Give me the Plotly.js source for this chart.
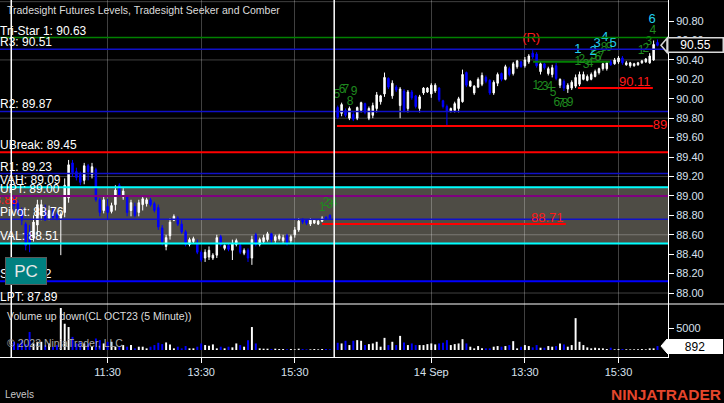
<!DOCTYPE html>
<html><head><meta charset="utf-8">
<script src="https://cdn.plot.ly/plotly-3.0.1.min.js"></script>
<style>html,body{margin:0;padding:0;background:#000;}#chart{width:724px;height:403px;}</style>
</head><body><div id="chart"></div>
<script>
// ---------- DATA (5-minute bars, CL OCT23) ----------
const day1Open  = [88.96,88.92,88.85,88.71,88.62,88.57,88.70,88.80,88.85,88.77,88.85,88.81,88.77,88.83,88.98,89.34,89.25,89.22,89.16,89.31,89.22,89.27,88.96,88.85,88.89,88.84,88.91,89.11,88.99,88.99,88.85,88.89,88.83,88.91,88.92,88.96,88.92,88.88,88.67,88.48,88.59,88.75,88.77,88.71,88.63,88.50,88.53,88.51,88.42,88.36,88.37,88.36,88.39,88.58,88.46,88.49,88.44,88.50,88.49,88.41,88.44,88.36,88.60,88.50,88.53,88.55,88.61,88.54,88.56,88.54,88.59,88.54,88.60,88.65,88.76,88.75,88.71,88.72,88.71,88.74,88.78,88.80];
const day1High  = [88.99,88.96,88.88,88.73,88.70,88.80,88.96,88.96,88.91,88.90,88.88,88.83,88.83,89.18,89.37,89.37,89.29,89.25,89.34,89.33,89.34,89.29,88.98,88.99,88.97,88.93,89.11,89.13,89.08,89.01,88.96,88.93,88.96,88.99,88.98,88.98,88.94,88.91,88.70,88.60,88.77,88.81,88.79,88.75,88.65,88.57,88.58,88.55,88.44,88.45,88.48,88.41,88.60,88.60,88.50,88.51,88.55,88.56,88.51,88.46,88.46,88.59,88.62,88.57,88.60,88.63,88.62,88.60,88.61,88.60,88.61,88.60,88.68,88.77,88.77,88.76,88.77,88.76,88.76,88.79,88.79,88.81];
const day1Low   = [88.85,88.80,88.70,88.44,88.42,88.53,88.60,88.75,88.75,88.75,88.76,88.75,88.39,88.78,88.93,89.20,89.16,89.11,89.12,89.16,89.18,88.94,88.79,88.82,88.75,88.82,88.85,88.99,88.96,88.79,88.79,88.78,88.79,88.85,88.89,88.89,88.83,88.65,88.49,88.44,88.55,88.74,88.69,88.61,88.48,88.48,88.51,88.40,88.32,88.32,88.34,88.34,88.36,88.48,88.44,88.43,88.34,88.48,88.40,88.39,88.32,88.29,88.48,88.48,88.51,88.53,88.51,88.51,88.54,88.51,88.49,88.51,88.57,88.63,88.71,88.70,88.69,88.71,88.70,88.73,88.75,88.76];
const day1Close = [88.90,88.83,88.75,88.49,88.51,88.73,88.91,88.91,88.75,88.85,88.78,88.77,88.81,89.11,89.32,89.24,89.19,89.14,89.31,89.25,89.30,88.96,88.83,88.96,88.83,88.90,89.06,89.01,89.05,88.83,88.93,88.80,88.93,88.97,88.96,88.91,88.85,88.68,88.53,88.57,88.73,88.79,88.71,88.63,88.50,88.55,88.56,88.42,88.34,88.42,88.44,88.39,88.57,88.50,88.49,88.45,88.51,88.54,88.42,88.44,88.36,88.55,88.50,88.55,88.57,88.61,88.55,88.58,88.59,88.57,88.51,88.58,88.65,88.74,88.73,88.72,88.75,88.75,88.74,88.77,88.76,88.77];
const day1Volume = [1865,1490,2240,1300,4100,1490,1865,1865,1120,1490,750,1120,9550,5970,5220,2980,1490,1865,1490,1490,750,2610,2240,1490,1865,1865,750,900,1120,750,1120,370,750,750,370,750,1120,1640,1340,1715,1270,370,750,370,895,370,370,750,1490,1120,970,1270,370,750,370,750,600,1490,1120,750,2240,5220,1490,370,300,300,220,300,220,220,150,220,150,300,220,150,150,220,150,220,220,150];

const day2Open  = [89.91,89.85,89.88,89.80,89.84,89.80,89.88,89.95,89.80,89.83,89.90,89.97,90.05,90.21,90.03,90.12,89.93,90.08,89.90,90.07,90.03,89.90,90.06,90.07,90.05,90.08,90.11,89.98,89.92,89.87,89.88,89.90,89.97,90.27,90.13,90.06,90.12,90.15,90.22,90.19,90.06,90.16,90.26,90.20,90.31,90.26,90.33,90.38,90.34,90.38,90.47,90.46,90.28,90.36,90.26,90.25,90.34,90.14,90.18,90.10,90.11,90.13,90.15,90.20,90.19,90.20,90.23,90.27,90.31,90.31,90.38,90.36,90.38,90.42,90.35,90.34,90.34,90.35,90.37,90.38,90.37,90.40,90.58];
const day2High  = [89.93,89.96,89.90,89.92,89.86,89.92,89.97,89.96,89.92,89.96,90.07,90.04,90.27,90.22,90.19,90.14,90.12,90.10,90.09,90.09,90.04,90.04,90.12,90.12,90.16,90.16,90.12,89.99,89.94,89.91,89.97,90.02,90.30,90.28,90.19,90.14,90.22,90.27,90.24,90.20,90.19,90.27,90.27,90.35,90.33,90.38,90.40,90.39,90.43,90.46,90.50,90.48,90.38,90.37,90.33,90.35,90.37,90.21,90.20,90.16,90.19,90.25,90.28,90.28,90.25,90.27,90.30,90.32,90.37,90.38,90.40,90.42,90.44,90.44,90.39,90.38,90.37,90.38,90.40,90.42,90.47,90.60,90.61];
const day2Low   = [89.79,89.82,89.81,89.78,89.77,89.78,89.86,89.84,89.78,89.80,89.86,89.94,90.02,90.10,90.00,90.07,89.80,89.86,89.86,89.99,89.90,89.86,90.04,90.06,90.01,90.06,89.97,89.90,89.72,89.86,89.86,89.86,89.96,90.12,90.12,90.04,90.11,90.13,90.16,90.04,90.04,90.13,90.18,90.19,90.23,90.24,90.31,90.32,90.32,90.36,90.41,90.32,90.25,90.30,90.24,90.22,90.19,90.11,90.08,90.06,90.09,90.11,90.13,90.19,90.18,90.19,90.22,90.25,90.29,90.29,90.34,90.35,90.36,90.35,90.34,90.32,90.33,90.34,90.36,90.37,90.36,90.39,90.54];
const day2Close = [89.81,89.94,89.83,89.90,89.79,89.91,89.96,89.86,89.90,89.93,90.04,90.03,90.22,90.12,90.16,90.09,90.10,89.88,90.07,90.01,89.92,90.02,90.11,90.11,90.14,90.14,89.99,89.92,89.87,89.90,89.95,90.00,90.25,90.14,90.18,90.13,90.20,90.24,90.18,90.06,90.17,90.25,90.20,90.33,90.25,90.36,90.39,90.33,90.40,90.44,90.43,90.34,90.36,90.32,90.31,90.32,90.21,90.20,90.11,90.14,90.17,90.22,90.25,90.25,90.23,90.25,90.28,90.31,90.36,90.37,90.35,90.40,90.42,90.37,90.37,90.37,90.36,90.37,90.39,90.41,90.44,90.56,90.55];
const day2Volume = [1640,1490,2090,1120,2090,2240,2090,1120,1340,1490,1865,750,2760,1120,1865,1120,3210,1715,1120,1490,1120,1120,1120,1340,1490,1270,1490,1640,2240,1120,1340,1490,2460,1490,750,370,895,370,370,370,750,895,750,895,1120,2010,370,750,1120,895,600,1120,520,520,895,750,895,1490,1270,750,1120,7240,1865,1120,600,370,520,370,370,220,520,150,220,220,150,150,150,150,220,150,370,370,892];

// time axis labels (bar index within the chart)
const timeTickIdx  = [24, 48, 72, 107, 131, 155];
const timeTickText = ['11:30', '13:30', '15:30', '14 Sep', '13:30', '15:30'];
const sessionStartIdx = [0, 83];

// Tradesight futures levels
const levelNames  = ['Tri-Star 1', 'R3', 'R2', 'UBreak', 'R1', 'VAH', 'UPT', 'Pivot', 'VAL', 'S1', 'LPT'];
const levelValues = [90.63, 90.51, 89.87, 89.45, 89.23, 89.09, 89.00, 88.76, 88.51, 88.12, 87.89];
const levelColors = ['#008000', '#1010c8', '#1010c8', '#ff0000', '#1010c8', '#00ffff', '#800080', '#1010c8', '#00ffff', '#0000ff', null];
const levelWidths = [1.5, 1.5, 1.5, 2, 1.5, 2, 2, 1.5, 2, 2, 0];

// Seeker / Comber segments
const segStartIdx = [79, 82.8, 144.6, 133.1];
const segEndIdx   = [141.5, 163.8, 163.8, 152.8];
const segPrice    = [88.71, 89.72, 90.11, 90.38];
const segColor    = ['#ff0000', '#ff0000', '#ff0000', '#008000'];

// count labels
const greenText  = ['1','2','3','4','5','6','7','8','9', '1','2','3','4','5','6','7','8','9', '1','2','3','4','5','6','7','8','9', '1','2','3','4'];
const greenIdx   = [79,80,81,82,82.8,84.1,85.1,86.2,87.2, 133.8,134.9,136.2,137.4,138.2,139.2,140.3,141.3,142.6, 144.6,145.6,146.7,147.7,148.7,149.7,150.5,151.3,152.6, 160.8,162.0,162.8,163.8];
const greenPrice = [88.88,88.93,88.91,88.93,90.04,90.09,90.09,89.97,90.07, 90.13,90.12,90.12,90.12,90.06,89.96,89.95,89.95,89.96, 90.38,90.40,90.35,90.36,90.44,90.42,90.43,90.52,90.52, 90.49,90.51,90.58,90.70];
const cyanText   = ['1','2','3','4','5','6'];
const cyanIdx    = [144.6,148.5,149.5,151.5,153.6,163.6];
const cyanPrice  = [90.50,90.48,90.57,90.63,90.57,90.81];
const redMarkText = ['(R)'];
const redMarkIdx  = [132.6];
const redMarkPrice = [90.62];

// ---------- BUILD ----------
const X1 = day1Open.map((_, i) => sessionStartIdx[0] + i);
const X2 = day2Open.map((_, i) => sessionStartIdx[1] + i);
const X = X1.concat(X2);
const O = day1Open.concat(day2Open);
const H = day1High.concat(day2High);
const L = day1Low.concat(day2Low);
const C = day1Close.concat(day2Close);
const V = day1Volume.concat(day2Volume);
const isUp = O.map((o, i) => C[i] >= o);

const FONT = 'Liberation Sans, Arial, sans-serif';
const plotW = 668, plotH = 357;
const priceBottom = 53 / plotH;
const pxPerPrice = 97.1;
const volPerPx = 5000 / 22;

const traces = [];
traces.push({
  type: 'candlestick', x: X, open: O, high: H, low: L, close: C,
  xaxis: 'x', yaxis: 'y', whiskerwidth: 0, hoverinfo: 'skip', showlegend: false,
  increasing: {line: {color: '#ffffff', width: 1}, fillcolor: '#ffffff'},
  decreasing: {line: {color: '#0000ff', width: 1}, fillcolor: '#0000ff'}
});
traces.push({
  type: 'bar', x: X, y: V, xaxis: 'x', yaxis: 'y2', width: 0.5,
  marker: {color: isUp.map(u => u ? '#ffffff' : '#0000ff'), line: {width: 0}},
  hoverinfo: 'skip', showlegend: false
});
segStartIdx.forEach((s, k) => {
  traces.push({type: 'scatter', mode: 'lines', x: [s, segEndIdx[k]], y: [segPrice[k], segPrice[k]],
    xaxis: 'x', yaxis: 'y', line: {color: segColor[k], width: 2}, hoverinfo: 'skip', showlegend: false});
});
traces.push({type: 'scatter', mode: 'text', x: greenIdx, y: greenPrice, text: greenText,
  textfont: {family: FONT, size: 12, color: '#1f8a1f'}, cliponaxis: false, hoverinfo: 'skip', showlegend: false});
traces.push({type: 'scatter', mode: 'text', x: cyanIdx, y: cyanPrice, text: cyanText,
  textfont: {family: FONT, size: 13, color: '#22d0f0'}, cliponaxis: false, hoverinfo: 'skip', showlegend: false});
traces.push({type: 'scatter', mode: 'text', x: redMarkIdx, y: redMarkPrice, text: redMarkText,
  textfont: {family: FONT, size: 13, color: '#ff1a1a'}, cliponaxis: false, hoverinfo: 'skip', showlegend: false});
// clipped edge labels
traces.push({type: 'scatter', mode: 'text', x: [segEndIdx[1]], y: [segPrice[1]], text: [segPrice[1].toFixed(2)],
  textposition: 'middle right', textfont: {family: FONT, size: 13, color: '#ff1a1a'}, cliponaxis: true, hoverinfo: 'skip', showlegend: false});
traces.push({type: 'scatter', mode: 'text', x: [0.9], y: [88.95], text: ['88.88'],
  textposition: 'middle left', textfont: {family: FONT, size: 12, color: '#ff1a1a'}, cliponaxis: true, hoverinfo: 'skip', showlegend: false});

const shapes = [];
const vahIdx = levelNames.indexOf('VAH'), valIdx = levelNames.indexOf('VAL');
shapes.push({type: 'rect', layer: 'below', xref: 'paper', yref: 'y', x0: 0, x1: 1,
  y0: levelValues[valIdx], y1: levelValues[vahIdx], fillcolor: '#4e4c45', line: {width: 0}});
for (let g = 88.0; g <= 91.01; g += 0.6) {
  shapes.push({type: 'line', layer: 'below', xref: 'paper', yref: 'y', x0: 0, x1: 1, y0: g, y1: g,
    line: {color: 'rgba(255,255,255,0.25)', width: 1}});
}
levelValues.forEach((v, k) => {
  if (!levelColors[k]) return;
  shapes.push({type: 'line', xref: 'paper', yref: 'y', x0: 0, x1: 1, y0: v, y1: v,
    line: {color: levelColors[k], width: levelWidths[k]}});
});
sessionStartIdx.forEach((s, k) => {
  const xv = s - (k === 0 ? 0.7 : 0.9);
  shapes.push({type: 'line', xref: 'x', yref: 'paper', x0: xv, x1: xv, y0: 0, y1: 1,
    line: {color: '#ffffff', width: 1.5}});
});
shapes.push({type: 'line', xref: 'paper', yref: 'paper', x0: 0, x1: 724 / plotW, y0: priceBottom, y1: priceBottom,
  line: {color: '#ffffff', width: 1}});
// last price / last volume marker chevrons (the boxes are annotations)
const lastC = C[C.length - 1];
const hP = 7 / pxPerPrice;
const tipX = 661 / plotW, boxL = 667 / plotW;
shapes.push({type: 'path', xref: 'paper', yref: 'y',
  path: `M ${boxL},${lastC + hP} L ${tipX},${lastC} L ${boxL},${lastC - hP} Z`,
  fillcolor: '#000000', line: {color: '#d8d8d8', width: 1.5}});
const lastV = V[V.length - 1];
const hV = 7 * volPerPx;
shapes.push({type: 'path', xref: 'paper', yref: 'y2',
  path: `M ${boxL},${lastV + hV} L ${tipX},${lastV} L ${boxL},${lastV - hV} Z`,
  fillcolor: '#ffffff', line: {color: '#ffffff', width: 1}});

const ann = [];
const py = p => (plotH - p) / plotH; // pixel y -> paper
ann.push({xref: 'paper', yref: 'paper', x: 5 / plotW, y: py(10), xanchor: 'left', yanchor: 'middle', showarrow: false,
  text: 'Tradesight Futures Levels, Tradesight Seeker and Comber', font: {family: FONT, size: 10.5, color: '#dcdcdc'}});
levelNames.forEach((n, k) => {
  ann.push({xref: 'paper', yref: 'y', x: 0, y: levelValues[k], xanchor: 'left', yanchor: 'bottom', xshift: -2, yshift: -2,
    showarrow: false, text: n + ': ' + levelValues[k].toFixed(2), font: {family: FONT, size: 12, color: '#ffffff'}});
});
[0, 2].forEach(k => {
  ann.push({xref: 'x', yref: 'y', x: segEndIdx[k], y: segPrice[k], xanchor: 'right', yanchor: 'bottom', yshift: -3, showarrow: false,
    text: segPrice[k].toFixed(2), font: {family: FONT, size: 13, color: '#ff1a1a'}});
});
ann.push({xref: 'paper', yref: 'paper', x: 5 / plotW, y: py(271), xanchor: 'left', yanchor: 'middle', showarrow: false,
  text: 'PC', width: 38, height: 24, bgcolor: '#008080', bordercolor: '#5a5a5a', borderwidth: 1,
  font: {family: FONT, size: 17, color: '#e8e8e8'}});
ann.push({xref: 'paper', yref: 'y', x: 667 / plotW, y: lastC, xanchor: 'left', yanchor: 'middle', showarrow: false,
  text: lastC.toFixed(2), width: 52, height: 11, borderpad: 1, bgcolor: '#000000', bordercolor: '#d8d8d8', borderwidth: 1.5,
  font: {family: FONT, size: 12, color: '#ffffff'}});
ann.push({xref: 'paper', yref: 'y2', x: 667 / plotW, y: lastV, xanchor: 'left', yanchor: 'middle', showarrow: false,
  text: String(lastV), width: 52, height: 11, borderpad: 1, bgcolor: '#ffffff', bordercolor: '#ffffff', borderwidth: 1,
  align: 'center', font: {family: FONT, size: 12, color: '#000000'}});
ann.push({xref: 'paper', yref: 'paper', x: 5 / plotW, y: py(316), xanchor: 'left', yanchor: 'middle', showarrow: false,
  text: 'Volume up down(CL OCT23 (5 Minute))', font: {family: FONT, size: 10.5, color: '#dcdcdc'}});
ann.push({xref: 'paper', yref: 'paper', x: 5 / plotW, y: py(343), xanchor: 'left', yanchor: 'middle', showarrow: false,
  text: '© 2023 NinjaTrader, LLC', font: {family: FONT, size: 10.5, color: '#a8a8a8'}});
ann.push({xref: 'paper', yref: 'paper', x: 3 / plotW, y: py(394), xanchor: 'left', yanchor: 'middle', showarrow: false,
  text: 'Levels', font: {family: FONT, size: 10, color: '#c8c8c8'}});
ann.push({xref: 'paper', yref: 'paper', x: 723 / plotW, y: py(394), xanchor: 'right', yanchor: 'middle', showarrow: false,
  text: '<b>NINJATRADER</b>', font: {family: FONT, size: 15.5, color: '#e5462c'}});

const priceTicks = [];
for (let t = 88.0; t <= 90.81; t += 0.2) priceTicks.push(Math.round(t * 100) / 100);

const layout = {
  width: 724, height: 403, margin: {l: 0, r: 56, t: 0, b: 46},
  paper_bgcolor: '#000000', plot_bgcolor: '#000000', showlegend: false,
  font: {family: FONT, size: 11, color: '#d8e0ee'},
  xaxis: {anchor: 'y2', domain: [0, 1], range: [-3.59, 167.69], tickmode: 'array', tickvals: timeTickIdx, ticktext: timeTickText,
    ticks: 'outside', ticklen: 5, tickcolor: '#ffffff', showline: true, linecolor: '#ffffff', linewidth: 1,
    showgrid: true, gridcolor: 'rgba(255,255,255,0.25)', gridwidth: 1, zeroline: false,
    rangeslider: {visible: false}, tickfont: {family: FONT, size: 11, color: '#d8e0ee'}},
  yaxis: {domain: [priceBottom, 1], anchor: 'x', side: 'right', range: [87.887, 91.017],
    tickmode: 'array', tickvals: priceTicks, ticktext: priceTicks.map(t => t.toFixed(2)),
    ticks: 'outside', ticklen: 5, tickcolor: '#ffffff', showline: true, linecolor: '#ffffff', linewidth: 1,
    showgrid: false, zeroline: false, tickfont: {family: FONT, size: 11, color: '#d8e0ee'}},
  yaxis2: {domain: [0, priceBottom], anchor: 'x', side: 'right', range: [-1591, 10455],
    tickmode: 'array', tickvals: [5000], ticktext: ['5000'],
    ticks: 'outside', ticklen: 5, tickcolor: '#ffffff', showline: true, linecolor: '#ffffff', linewidth: 1,
    showgrid: false, zeroline: false, tickfont: {family: FONT, size: 11, color: '#d8e0ee'}},
  shapes: shapes, annotations: ann, boxgap: 0.45
};

Plotly.newPlot('chart', traces, layout, {staticPlot: true, displayModeBar: false});
</script>
</body></html>
